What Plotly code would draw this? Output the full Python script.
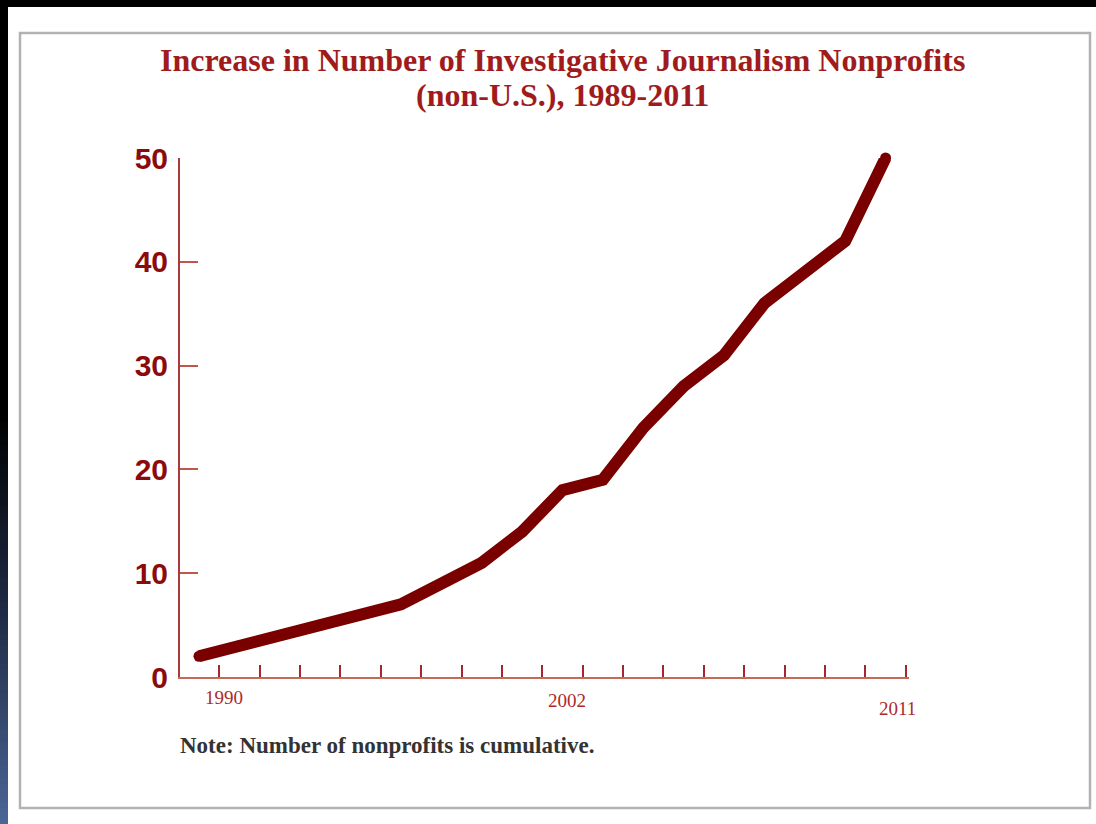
import plotly.graph_objects as go

# Cumulative count of investigative journalism nonprofits outside the U.S.
period_index = list(range(18))
nonprofits = [2, 3, 4, 5, 6, 7, 9, 11, 14, 18, 19, 24, 28, 31, 36, 39, 42, 50]

# Year labels shown beneath the axis
year_labels = ["1990", "2002", "2011"]
year_label_x = [0.62, 9.1, 17.3]
year_label_drop = [20, 23, 31]

y_ticks = [0, 10, 20, 30, 40, 50]

W_FIG, H_FIG = 1096, 824
L, R, T, B = 180, 909, 158, 677
PW, PH = R - L, B - T


def px_x(px):
    return (px - L) / PW


def px_y(py):
    return (B - py) / PH


LINE_RED = "#7a0000"
TEXT_RED = "#a01c1c"

fig = go.Figure()
fig.add_trace(go.Scatter(
    x=period_index,
    y=nonprofits,
    mode="lines+markers",
    line=dict(color=LINE_RED, width=12),
    marker=dict(color=LINE_RED, size=11),
    hoverinfo="skip",
    cliponaxis=False,
    showlegend=False,
))

shapes = []
# dark frame strips along the top and left edges
shapes.append(dict(type="rect", xref="paper", yref="paper",
                   x0=px_x(0), x1=px_x(W_FIG), y0=px_y(0), y1=px_y(7),
                   fillcolor="black", line=dict(width=0), layer="below"))
shapes.append(dict(type="rect", xref="paper", yref="paper",
                   x0=px_x(0), x1=px_x(8), y0=px_y(0), y1=px_y(410),
                   fillcolor="black", line=dict(width=0), layer="below"))


def lerp(c1, c2, t):
    return tuple(round(a + (b - a) * t) for a, b in zip(c1, c2))


stops = [(410, (0, 0, 0)), (610, (31, 43, 69)), (824, (75, 103, 151))]
step = 6
for (ya, ca), (yb, cb) in zip(stops[:-1], stops[1:]):
    y = ya
    while y < yb:
        y2 = min(y + step, yb)
        c = lerp(ca, cb, (y - ya) / (yb - ya))
        shapes.append(dict(type="rect", xref="paper", yref="paper",
                           x0=px_x(0), x1=px_x(8), y0=px_y(y), y1=px_y(y2 + 0.5),
                           fillcolor="rgb(%d,%d,%d)" % c, line=dict(width=0),
                           layer="below"))
        y = y2

# grey border around the chart panel
shapes.append(dict(type="rect", xref="paper", yref="paper",
                   x0=px_x(20), x1=px_x(1090), y0=px_y(808), y1=px_y(33),
                   line=dict(color="#b2b2b6", width=2.5), fillcolor="rgba(0,0,0,0)",
                   layer="below"))

annotations = [
    dict(text="<b>Increase in Number of Investigative Journalism Nonprofits</b>",
         xref="paper", yref="paper", x=px_x(562), y=px_y(60),
         xanchor="center", yanchor="middle", showarrow=False,
         font=dict(family="Liberation Serif", size=32, color=TEXT_RED)),
    dict(text="<b>(non-U.S.), 1989-2011</b>",
         xref="paper", yref="paper", x=px_x(562), y=px_y(95),
         xanchor="center", yanchor="middle", showarrow=False,
         font=dict(family="Liberation Serif", size=32, color=TEXT_RED)),
    dict(text="<b>Note: Number of nonprofits is cumulative.</b>",
         xref="paper", yref="paper", x=px_x(178), y=px_y(745),
         xanchor="left", yanchor="middle", showarrow=False,
         font=dict(family="Liberation Serif", size=23, color="#333333")),
]
for lab, xv, drop in zip(year_labels, year_label_x, year_label_drop):
    annotations.append(dict(text=lab, xref="x", yref="paper", x=xv, y=0,
                            yshift=-drop, xanchor="center", yanchor="middle",
                            showarrow=False,
                            font=dict(family="Liberation Serif", size=19,
                                      color="#ad2a2a")))

fig.update_layout(
    width=W_FIG, height=H_FIG,
    margin=dict(l=L, r=W_FIG - R, t=T, b=H_FIG - B, pad=0),
    paper_bgcolor="white",
    plot_bgcolor="white",
    shapes=shapes,
    annotations=annotations,
    xaxis=dict(
        range=[-0.47, 17.58],
        showgrid=False, zeroline=False,
        showline=True, linecolor="#c56a58", linewidth=2,
        ticks="inside", ticklen=12, tickwidth=2, tickcolor="#a3282a",
        tick0=0.5, dtick=1, showticklabels=False,
        fixedrange=True,
    ),
    yaxis=dict(
        range=[0, 50],
        showgrid=False, zeroline=False,
        showline=True, linecolor="#a83a3a", linewidth=2,
        ticks="inside", ticklen=18, tickwidth=2, tickcolor="#c0584a",
        tickvals=y_ticks,
        tickfont=dict(family="Liberation Sans", size=30, color="#8b0a0a",
                      weight="bold"),
        ticklabelstandoff=4,
        fixedrange=True,
    ),
)

fig.write_html("out.html")
